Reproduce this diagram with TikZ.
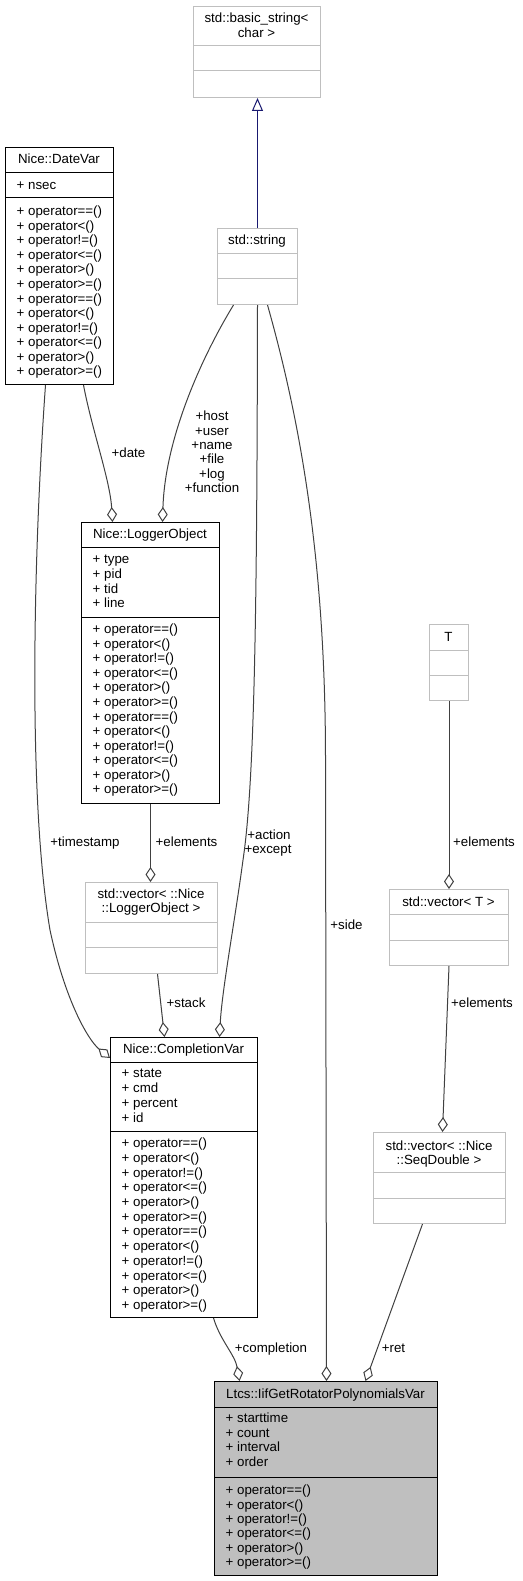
\documentclass[tikz,border=0pt]{standalone}
\usepackage{fontspec}
\setmainfont{Liberation Sans}
\usetikzlibrary{arrows.meta}
\definecolor{edgec}{HTML}{404040}
\definecolor{gbord}{HTML}{BFBFBF}
\definecolor{gfill}{HTML}{BFBFBF}
\definecolor{inhc}{HTML}{191970}
\newcommand\opsrows[5]{%
  \foreach \opn [count=\i from 0] in {#5}
    \node[rowt] (#1-op\i) at (#2, #3+\i*#4) {+ operator\opn()};}
\begin{document}
\begin{tikzpicture}[x=1pt,y=-1pt,
  every node/.style={font=\fontsize{13.3}{14.5}\selectfont},
  bbox/.style={draw=black, line width=1pt, inner sep=0, anchor=north west},
  gbox/.style={draw=gbord, line width=1pt, inner sep=0, anchor=north west},
  bdiv/.style={draw=black, line width=1pt},
  gdiv/.style={draw=gbord, line width=1pt},
  rowt/.style={anchor=west, inner sep=0, text height=9.5pt, text depth=0pt},
  ttl/.style={anchor=center, inner sep=0, text height=9.5pt, text depth=0pt},
  lbl/.style={anchor=center, inner sep=0, text height=9.5pt, text depth=0pt},
  agg/.style={draw=edgec, line width=1pt, -{Diamond[open, length=15pt, width=10pt]}},
  inh/.style={draw=inhc, line width=1pt, -{Triangle[open, length=13pt, width=11pt]}},
]
\useasboundingbox (0,0) rectangle (522,1581);

% std::basic_string<char>
\node[gbox, minimum width=127, minimum height=91] (basicstr) at (193,6) {};
\draw[gdiv] (193,46) -- (320,46);
\draw[gdiv] (193,71) -- (320,71);
\node[ttl] (basicstr-t1) at (256.5,18) {std::basic\_string<};
\node[ttl] (basicstr-t2) at (256.5,33) {char >};

% std::string
\node[gbox, minimum width=80, minimum height=76] (string) at (217,228) {};
\draw[gdiv] (217,253) -- (297,253);
\draw[gdiv] (217,278) -- (297,278);
\node[ttl] (string-t) at (257,240) {std::string};

% Nice::DateVar
\node[bbox, minimum width=108, minimum height=237] (datevar) at (5,147) {};
\draw[bdiv] (5,173) -- (113,173);
\draw[bdiv] (5,198) -- (113,198);
\node[ttl] (datevar-t) at (59,159) {Nice::DateVar};
\node[rowt] (datevar-a0) at (16.5,185) {+ nsec};
\opsrows{datevar}{16.5}{211}{14.55}{==,<,!=,<=,>,>=,==,<,!=,<=,>,>=}

% Nice::LoggerObject
\node[bbox, minimum width=138, minimum height=281] (logger) at (81,522) {};
\draw[bdiv] (81,547) -- (219,547);
\draw[bdiv] (81,617) -- (219,617);
\node[ttl] (logger-t) at (150,534) {Nice::LoggerObject};
\node[rowt] (logger-a0) at (92.5,559) {+ type};
\node[rowt] (logger-a1) at (92.5,574) {+ pid};
\node[rowt] (logger-a2) at (92.5,589) {+ tid};
\node[rowt] (logger-a3) at (92.5,603) {+ line};
\opsrows{logger}{92.5}{629}{14.55}{==,<,!=,<=,>,>=,==,<,!=,<=,>,>=}

% std::vector< ::Nice::LoggerObject >
\node[gbox, minimum width=132, minimum height=91] (veclogger) at (85,882) {};
\draw[gdiv] (85,922) -- (217,922);
\draw[gdiv] (85,947) -- (217,947);
\node[ttl] (veclogger-t1) at (151,894) {std::vector< ::Nice};
\node[ttl] (veclogger-t2) at (151,908) {::LoggerObject >};

% Nice::CompletionVar
\node[bbox, minimum width=147, minimum height=280] (completion) at (110,1037) {};
\draw[bdiv] (110,1062) -- (257,1062);
\draw[bdiv] (110,1131) -- (257,1131);
\node[ttl] (completion-t) at (183.5,1049) {Nice::CompletionVar};
\node[rowt] (completion-a0) at (121.5,1073) {+ state};
\node[rowt] (completion-a1) at (121.5,1088) {+ cmd};
\node[rowt] (completion-a2) at (121.5,1103) {+ percent};
\node[rowt] (completion-a3) at (121.5,1118) {+ id};
\opsrows{completion}{121.5}{1143}{14.7}{==,<,!=,<=,>,>=,==,<,!=,<=,>,>=}

% T
\node[gbox, minimum width=39, minimum height=76] (T) at (429,624) {};
\draw[gdiv] (429,650) -- (468,650);
\draw[gdiv] (429,675) -- (468,675);
\node[ttl] (T-t) at (448.5,637) {T};

% std::vector< T >
\node[gbox, minimum width=119, minimum height=76] (vecT) at (389,889) {};
\draw[gdiv] (389,914) -- (508,914);
\draw[gdiv] (389,940) -- (508,940);
\node[ttl] (vecT-t) at (448.5,902) {std::vector< T >};

% std::vector< ::Nice::SeqDouble >
\node[gbox, minimum width=132, minimum height=91] (seqdouble) at (373,1132) {};
\draw[gdiv] (373,1172) -- (505,1172);
\draw[gdiv] (373,1198) -- (505,1198);
\node[ttl] (seqdouble-t1) at (439,1146) {std::vector< ::Nice};
\node[ttl] (seqdouble-t2) at (439,1160) {::SeqDouble >};

% Ltcs::IifGetRotatorPolynomialsVar
\node[bbox, fill=gfill, minimum width=223, minimum height=194] (ltcs) at (214,1381) {};
\draw[bdiv] (214,1407) -- (437,1407);
\draw[bdiv] (214,1477) -- (437,1477);
\node[ttl] (ltcs-t) at (325.5,1394) {Ltcs::IifGetRotatorPolynomialsVar};
\node[rowt] (ltcs-a0) at (225.5,1418) {+ starttime};
\node[rowt] (ltcs-a1) at (225.5,1433) {+ count};
\node[rowt] (ltcs-a2) at (225.5,1447) {+ interval};
\node[rowt] (ltcs-a3) at (225.5,1462) {+ order};
\opsrows{ltcs}{225.5}{1490}{14.4}{==,<,!=,<=,>,>=}

% ---- connectors ----
\draw[inh] (string.north) -- (string.north |- basicstr.south);

\draw[agg] ([xshift=-24pt]string.south) .. controls (200,360) and (165,440) .. ([xshift=12pt]logger.north);
\draw[agg] ([xshift=24pt]datevar.south) .. controls (92,430) and (110,480) .. ([xshift=-38pt]logger.north);
\draw[agg] ([xshift=-14pt]datevar.south) .. controls (33,560) and (28,800) .. (50,930)
   .. controls (65,1000) and (88,1040) .. ([yshift=-21pt]completion.north west);
\draw[agg] (string.south) .. controls (257,600) and (255,780) .. (243,860)
   .. controls (235,920) and (222,990) .. ([xshift=35.5pt]completion.north);
\draw[agg] ([xshift=10pt]string.south) .. controls (300,420) and (325.5,560) .. (325.5,760)
   -- ([xshift=0.5pt]ltcs.north);
\draw[agg] (logger.south) -- (logger.south |- veclogger.north);
\draw[agg] ([xshift=6pt]veclogger.south) -- ([xshift=-19.5pt]completion.north);
\draw[agg] (T.south) -- (vecT.north);
\draw[agg] (vecT.south) -- ([xshift=3pt]seqdouble.north);
\draw[agg] ([xshift=-17pt]seqdouble.south) -- ([xshift=39.5pt]ltcs.north);
\draw[agg] ([xshift=29.5pt]completion.south) .. controls (220,1340) and (235,1355) .. ([xshift=-86.5pt]ltcs.north);

% ---- labels ----
\node[lbl] (l-date) at (128.5,453) {+date};
\node[lbl] (l-host) at (212,416) {+host};
\node[lbl] (l-user) at (212,431) {+user};
\node[lbl] (l-name) at (212,445) {+name};
\node[lbl] (l-file) at (212,459) {+file};
\node[lbl] (l-log) at (212,474) {+log};
\node[lbl] (l-func) at (212,488) {+function};
\node[lbl] (l-ts) at (85,842) {+timestamp};
\node[lbl] (l-el1) at (186.5,842) {+elements};
\node[lbl] (l-act) at (269,835) {+action};
\node[lbl] (l-exc) at (268,849) {+except};
\node[lbl] (l-stack) at (186,1003) {+stack};
\node[lbl] (l-side) at (346.5,925) {+side};
\node[lbl] (l-el2) at (484,842) {+elements};
\node[lbl] (l-el3) at (482,1003) {+elements};
\node[lbl] (l-comp) at (271,1348) {+completion};
\node[lbl] (l-ret) at (393.5,1348) {+ret};
\end{tikzpicture}
\end{document}
